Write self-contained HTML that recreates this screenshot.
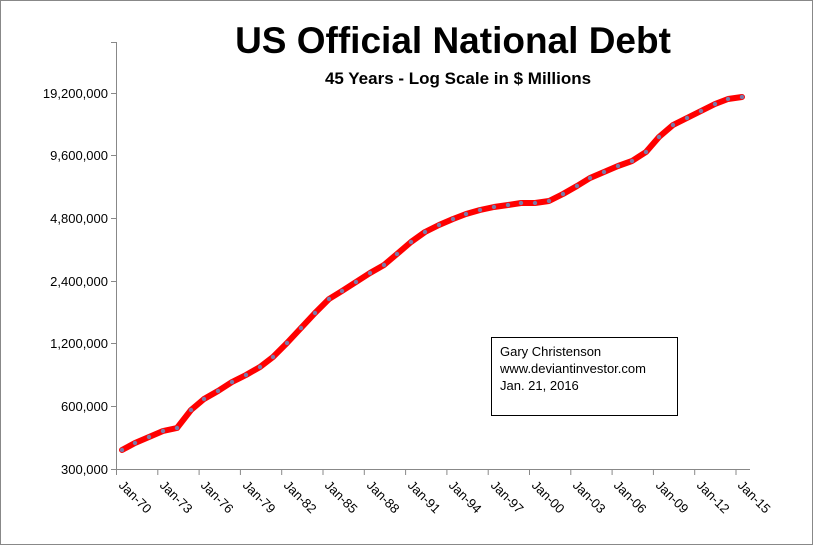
<!DOCTYPE html>
<html><head><meta charset="utf-8"><style>
html,body{margin:0;padding:0;background:#fff;}
svg{display:block;font-family:"Liberation Sans",sans-serif;}
</style></head><body>
<svg width="814" height="546" viewBox="0 0 814 546" xmlns="http://www.w3.org/2000/svg">
<rect x="0.5" y="0.5" width="812" height="544" fill="#fff" stroke="#888" stroke-width="1"/>
<text x="453" y="53" text-anchor="middle" font-size="37" font-weight="bold" fill="#000">US Official National Debt</text>
<text x="458" y="84" text-anchor="middle" font-size="17" font-weight="bold" fill="#000">45 Years - Log Scale in $ Millions</text>
<g stroke="#888" stroke-width="1" fill="none">
<line x1="116.5" y1="42" x2="116.5" y2="469.5"/>
<line x1="116" y1="469.5" x2="750" y2="469.5"/>
<line x1="111" y1="469.5" x2="116" y2="469.5"/>
<line x1="111" y1="406.5" x2="116" y2="406.5"/>
<line x1="111" y1="343.5" x2="116" y2="343.5"/>
<line x1="111" y1="281.5" x2="116" y2="281.5"/>
<line x1="111" y1="218.5" x2="116" y2="218.5"/>
<line x1="111" y1="155.5" x2="116" y2="155.5"/>
<line x1="111" y1="93.5" x2="116" y2="93.5"/>
<line x1="111" y1="42.5" x2="116" y2="42.5"/>
</g>
<g font-size="13" fill="#000" text-anchor="end">
<text x="108" y="474">300,000</text>
<text x="108" y="411">600,000</text>
<text x="108" y="348">1,200,000</text>
<text x="108" y="286">2,400,000</text>
<text x="108" y="223">4,800,000</text>
<text x="108" y="160">9,600,000</text>
<text x="108" y="98">19,200,000</text>
</g>
<g stroke="#888" stroke-width="1">
<line x1="116.5" y1="469" x2="116.5" y2="475"/>
<line x1="157.8" y1="469" x2="157.8" y2="475"/>
<line x1="199.1" y1="469" x2="199.1" y2="475"/>
<line x1="240.4" y1="469" x2="240.4" y2="475"/>
<line x1="281.7" y1="469" x2="281.7" y2="475"/>
<line x1="323" y1="469" x2="323" y2="475"/>
<line x1="364.3" y1="469" x2="364.3" y2="475"/>
<line x1="405.6" y1="469" x2="405.6" y2="475"/>
<line x1="446.9" y1="469" x2="446.9" y2="475"/>
<line x1="488.2" y1="469" x2="488.2" y2="475"/>
<line x1="529.5" y1="469" x2="529.5" y2="475"/>
<line x1="570.8" y1="469" x2="570.8" y2="475"/>
<line x1="612.1" y1="469" x2="612.1" y2="475"/>
<line x1="653.4" y1="469" x2="653.4" y2="475"/>
<line x1="694.7" y1="469" x2="694.7" y2="475"/>
<line x1="736" y1="469" x2="736" y2="475"/>
</g>
<g font-size="13" fill="#000">
<text transform="translate(118,486) rotate(45)">Jan-70</text>
<text transform="translate(159,486) rotate(45)">Jan-73</text>
<text transform="translate(200,486) rotate(45)">Jan-76</text>
<text transform="translate(242,486) rotate(45)">Jan-79</text>
<text transform="translate(283,486) rotate(45)">Jan-82</text>
<text transform="translate(324,486) rotate(45)">Jan-85</text>
<text transform="translate(366,486) rotate(45)">Jan-88</text>
<text transform="translate(407,486) rotate(45)">Jan-91</text>
<text transform="translate(448,486) rotate(45)">Jan-94</text>
<text transform="translate(490,486) rotate(45)">Jan-97</text>
<text transform="translate(531,486) rotate(45)">Jan-00</text>
<text transform="translate(572,486) rotate(45)">Jan-03</text>
<text transform="translate(613,486) rotate(45)">Jan-06</text>
<text transform="translate(655,486) rotate(45)">Jan-09</text>
<text transform="translate(696,486) rotate(45)">Jan-12</text>
<text transform="translate(737,486) rotate(45)">Jan-15</text>
</g>
<polyline fill="none" stroke="#f00" stroke-width="6" stroke-linejoin="round" stroke-linecap="round"
points="122,450 135,443 149,437 163,431 177,428 191,410 204,399 218,391 232,382 246,375 260,367 273,357 287,343 301,328 315,313 329,299 342,291 356,282 370,273 384,265 397,254 411,242 425,232 439,225 453,219 466,214 480,210 494,207 508,205 521,203 535,203 549,201 563,194 577,186 590,178 604,172 618,166 632,161 646,152 659,137 673,125 687,118 701,111 715,104 728,99 742,97"/>
<g fill="#7a7aa8">
<circle cx="122" cy="450" r="2.2"/><circle cx="135" cy="443" r="2.2"/><circle cx="149" cy="437" r="2.2"/><circle cx="163" cy="431" r="2.2"/><circle cx="177" cy="428" r="2.2"/><circle cx="191" cy="410" r="2.2"/><circle cx="204" cy="399" r="2.2"/><circle cx="218" cy="391" r="2.2"/><circle cx="232" cy="382" r="2.2"/><circle cx="246" cy="375" r="2.2"/><circle cx="260" cy="367" r="2.2"/><circle cx="273" cy="357" r="2.2"/><circle cx="287" cy="343" r="2.2"/><circle cx="301" cy="328" r="2.2"/><circle cx="315" cy="313" r="2.2"/><circle cx="329" cy="299" r="2.2"/><circle cx="342" cy="291" r="2.2"/><circle cx="356" cy="282" r="2.2"/><circle cx="370" cy="273" r="2.2"/><circle cx="384" cy="265" r="2.2"/><circle cx="397" cy="254" r="2.2"/><circle cx="411" cy="242" r="2.2"/><circle cx="425" cy="232" r="2.2"/><circle cx="439" cy="225" r="2.2"/><circle cx="453" cy="219" r="2.2"/><circle cx="466" cy="214" r="2.2"/><circle cx="480" cy="210" r="2.2"/><circle cx="494" cy="207" r="2.2"/><circle cx="508" cy="205" r="2.2"/><circle cx="521" cy="203" r="2.2"/><circle cx="535" cy="203" r="2.2"/><circle cx="549" cy="201" r="2.2"/><circle cx="563" cy="194" r="2.2"/><circle cx="577" cy="186" r="2.2"/><circle cx="590" cy="178" r="2.2"/><circle cx="604" cy="172" r="2.2"/><circle cx="618" cy="166" r="2.2"/><circle cx="632" cy="161" r="2.2"/><circle cx="646" cy="152" r="2.2"/><circle cx="659" cy="137" r="2.2"/><circle cx="673" cy="125" r="2.2"/><circle cx="687" cy="118" r="2.2"/><circle cx="701" cy="111" r="2.2"/><circle cx="715" cy="104" r="2.2"/><circle cx="728" cy="99" r="2.2"/><circle cx="742" cy="97" r="2.2"/>
</g>
<rect x="491.5" y="337.5" width="186" height="78" fill="#fff" stroke="#000" stroke-width="1"/>
<g font-size="13" fill="#000">
<text x="500" y="356">Gary Christenson</text>
<text x="500" y="373">www.deviantinvestor.com</text>
<text x="500" y="390">Jan. 21, 2016</text>
</g>
</svg>
</body></html>
